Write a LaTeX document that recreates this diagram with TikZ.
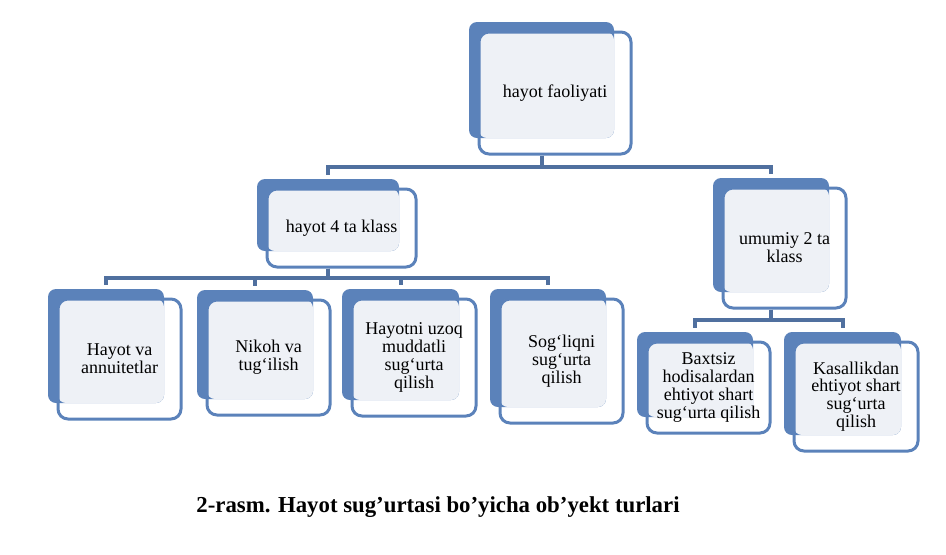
\documentclass[tikz,border=0pt]{standalone}
\usepackage{fontspec}
\setmainfont{Liberation Serif}
\usepackage{tikz}
\usetikzlibrary{fit}

\definecolor{boxblue}{HTML}{5B82BA}
\definecolor{boxlight}{HTML}{EEF1F6}
\definecolor{linkblue}{HTML}{50709F}

\tikzset{
	back/.style={fill=boxblue, rounded corners=4pt, inner sep=0pt},
	light/.style={fill=boxlight, rounded corners=4pt, inner sep=0pt},
	front/.style={draw=boxblue, line width=1.5pt, rounded corners=5pt, inner sep=0pt,
	              align=center, font=\fontsize{9}{8.9}\selectfont},
	link/.style={draw=linkblue, line width=2pt, shorten >=2pt},
	caption/.style={font=\bfseries\fontsize{11.4}{13}\selectfont}
}

% #1 name, #2 #3 #4 #5 corners of the back box, #6 text
\newcommand{\orgbox}[6]{%
	\node[back, fit={(#2,#3) (#4,#5)}] (#1-b) {};
	\node[light, fit={(#2+10,#3+10) (#4,#5)}] (#1-l) {};
	\node[front, minimum width={(#4-#2+7)*0.5pt}, minimum height={(#5-#3+6)*0.5pt}]
		(#1-f) at ({(#2+#4+27)/2},{(#3+#5+26)/2}) {#6};
}

\begin{document}
\begin{tikzpicture}[x=0.5pt, y=-0.5pt]
	\useasboundingbox (0,0) rectangle (946,554);

	\orgbox{top}{469}{22}{614}{138}{hayot faoliyati}
	\orgbox{life}{257}{179}{399}{251}{hayot 4 ta klass}
	\orgbox{gen}{713}{178}{829}{292}{umumiy 2 ta\\klass}
	\orgbox{ann}{48}{289}{164}{403}{Hayot va\\annuitetlar}
	\orgbox{mar}{197}{290}{313}{399}{Nikoh va\\tug‘ilish}
	\orgbox{long}{342}{289}{459}{400}{Hayotni uzoq\\muddatli\\sug‘urta\\qilish}
	\orgbox{health}{490}{289}{606}{407}{Sog‘liqni\\sug‘urta\\qilish}
	\orgbox{acc}{637}{332}{753}{417}{Baxtsiz\\hodisalardan\\ehtiyot shart\\sug‘urta qilish}
	\orgbox{ill}{784}{332}{901}{435}{Kasallikdan\\ehtiyot shart\\sug‘urta\\qilish}

	\begin{scope}[every path/.style={link}]
		\path (top-b.south |- top-f.south) -- ++(0,11) -| (life-b.north);
		\path (top-b.south |- top-f.south) -- ++(0,11) -| (gen-b.north);
		\path (life-b.south |- life-f.south) -- ++(0,9) -| (ann-b.north);
		\path (life-b.south |- life-f.south) -- ++(0,9) -| (mar-b.north);
		\path (life-b.south |- life-f.south) -- ++(0,9) -| (long-b.north);
		\path (life-b.south |- life-f.south) -- ++(0,9) -| (health-b.north);
		\path (gen-b.south |- gen-f.south) -- ++(0,10) -| (acc-b.north);
		\path (gen-b.south |- gen-f.south) -- ++(0,10) -| (ill-b.north);
	\end{scope}

	\node[caption, anchor=base] (cap) at (438,512) {2-rasm. Hayot sug’urtasi bo’yicha ob’yekt turlari};
\end{tikzpicture}
\end{document}
